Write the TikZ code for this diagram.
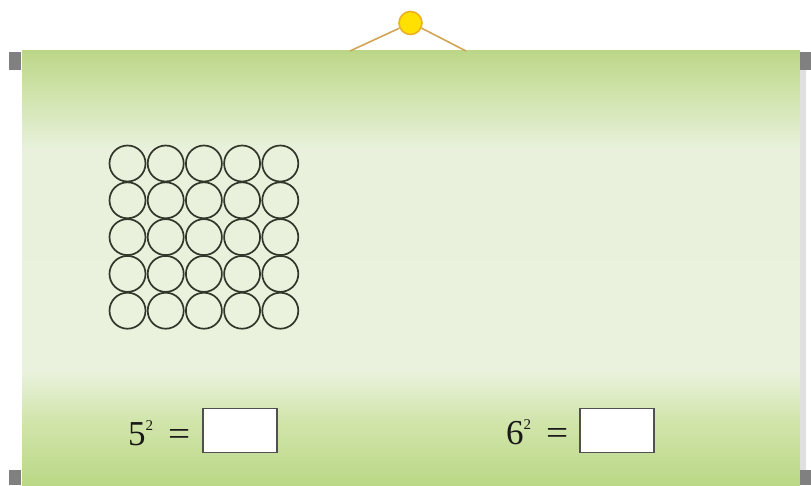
\documentclass[tikz,border=0pt]{standalone}
\usepackage{fontspec}
\setmainfont{Liberation Serif}
\definecolor{gA}{RGB}{188,214,136}
\definecolor{gB}{RGB}{210,229,176}
\definecolor{gC}{RGB}{233,241,221}
\definecolor{gD}{RGB}{234,242,222}
\definecolor{gE}{RGB}{210,229,172}
\definecolor{gF}{RGB}{186,216,134}
\definecolor{tabgray}{RGB}{128,128,128}
\definecolor{pinyellow}{RGB}{255,224,0}
\definecolor{pinedge}{RGB}{236,176,40}
\definecolor{cordcol}{RGB}{210,165,85}
\definecolor{ringcol}{RGB}{50,55,42}
\definecolor{boxcol}{RGB}{80,80,80}
\pgfdeclareverticalshading{boardshade}{100bp}{color(0bp)=(gF); color(25bp)=(gF); color(32.5bp)=(gE); color(38.2bp)=(gD); color(63.5bp)=(gC); color(69.3bp)=(gB); color(75bp)=(gA); color(100bp)=(gA)}
\tikzset{
  ring/.style={circle, draw=ringcol, line width=1.7pt, minimum width=36pt, minimum height=36pt, inner sep=0pt},
  ansbox/.style={draw=boxcol, fill=white, line width=1.6pt, minimum width=74pt, minimum height=44pt, inner sep=0pt},
  eqtext/.style={font=\fontsize{35}{37}\selectfont, text=black!90, inner sep=0pt},
  tab/.style={fill=tabgray},
}
\newcommand{\sqeq}[1]{#1\raisebox{15pt}{\fontsize{15}{15}\selectfont 2}\hspace{15pt}\scalebox{1.12}[1]{=}}
\begin{document}
\begin{tikzpicture}[x=1pt,y=-1pt]
\useasboundingbox (0,0) rectangle (811,485);
\fill[white] (0,0) rectangle (811,485);
% board
\shade[shading=boardshade] (22,50) rectangle (800,485);
\fill[black!12] (800,70) rectangle (806,470);
% tabs
\fill[tab] (9,52) rectangle (21,70);
\fill[tab] (9,470) rectangle (21,485);
\fill[tab] (800,52) rectangle (811,70);
\fill[tab] (800,470) rectangle (811,485);
% hanger
\node[circle, fill=pinyellow, draw=pinedge, line width=1.6pt, minimum size=23pt, inner sep=0pt] (pin) at (410.5,23) {};
\coordinate (hl) at (350,51);
\coordinate (hr) at (466,51);
\draw[cordcol, line width=1.6pt] (hl) -- (pin.205);
\draw[cordcol, line width=1.6pt] (hr) -- (pin.-25);
% circles
\foreach \i in {0,...,4}{
  \foreach \j in {0,...,4}{
    \node[ring] (c-\i-\j) at ({127.5+38.2*\i},{163.5+36.8*\j}) {};
  }
}
% equations
\node[eqtext, anchor=base west] (eq1) at (128,445) {\sqeq{5}};
\node[ansbox, anchor=west] (box1) at (202,430.5) {};
\node[eqtext, anchor=base west] (eq2) at (506,444) {\sqeq{6}};
\node[ansbox, anchor=west] (box2) at (579,430.5) {};
\end{tikzpicture}
\end{document}
